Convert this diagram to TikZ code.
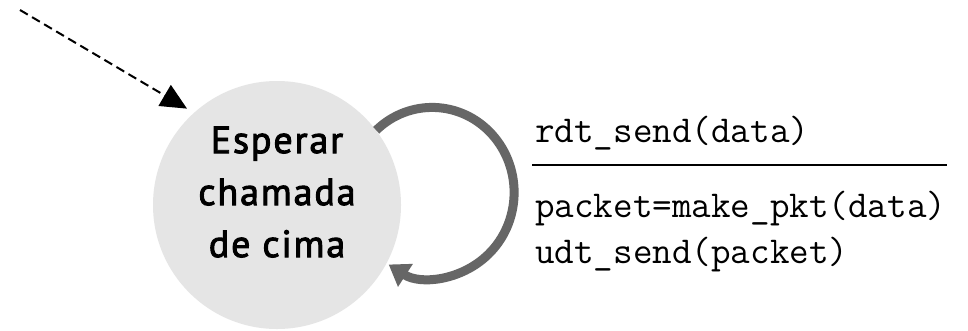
\documentclass[tikz,border=0pt]{standalone}
\usepackage{fontspec}
\setmainfont{PT Sans}
\newfontfamily\statefont[LetterSpace=5,FakeBold=2.5]{PT Sans}
\usetikzlibrary{arrows.meta}
\begin{document}
\begin{tikzpicture}[x=1pt,y=-1pt,
  state/.style={circle,fill=black!10,minimum size=248pt,inner sep=0pt},
  statetext/.style={align=center,font=\fontsize{38}{52}\statefont},
  action/.style={font=\fontsize{38}{46}\ttfamily,inner sep=0pt,align=left},
  initedge/.style={line width=2pt,dash pattern=on 9pt off 5pt,
    -{Triangle[width=24pt,length=26pt]},shorten >=8pt},
  loopedge/.style={draw=black!60,line width=9pt,
    -{Triangle[width=26pt,length=20pt]}},
  rule/.style={line width=2pt}]
  \useasboundingbox[fill=white] (0,0) rectangle (968,330);

  % state and its label
  \node[state] (s) at (277,205) {};
  \node[statetext] (stxt) at (277,192) {Esperar\\chamada\\de cima};

  % initial transition
  \coordinate (init) at (20,10);
  \draw[initedge] (init) -- (s.132);

  % self transition
  \draw[loopedge] (s.37) arc[x radius=82, y radius=85, start angle=-133, end angle=122];

  % transition label: event over actions
  \node[action,anchor=base west] (ev) at (535,142) {rdt\_send(data)};
  \coordinate (ruleA) at (532,165);
  \coordinate (ruleB) at (947,165);
  \draw[rule] (ruleA) -- (ruleB);
  \node[action,anchor=base west] (act) at (535,263) {packet=make\_pkt(data)\\udt\_send(packet)};
\end{tikzpicture}
\end{document}
